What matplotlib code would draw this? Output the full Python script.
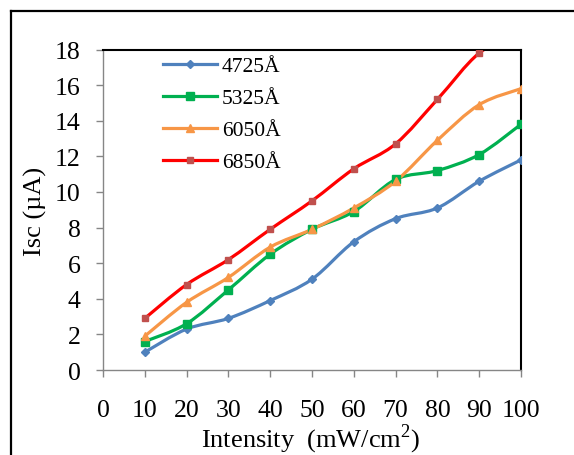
import matplotlib
matplotlib.use("Agg")
import matplotlib.pyplot as plt
import numpy as np
from matplotlib.path import Path
from matplotlib.patches import PathPatch
from matplotlib.lines import Line2D

plt.rcParams['font.family'] = ['Liberation Serif', 'DejaVu Serif']
plt.rcParams['mathtext.fontset'] = 'custom'
plt.rcParams['mathtext.rm'] = 'Liberation Serif'

intensity = [10, 20, 30, 40, 50, 60, 70, 80, 90, 100]
isc_4725 = [1.0, 2.3, 2.9, 3.9, 5.1, 7.2, 8.5, 9.1, 10.6, 11.8]
isc_5325 = [1.6, 2.6, 4.5, 6.5, 7.9, 8.9, 10.7, 11.2, 12.1, 13.8]
isc_6050 = [1.9, 3.8, 5.2, 6.9, 7.9, 9.1, 10.6, 12.9, 14.9, 15.8]
isc_6850 = [2.9, 4.8, 6.2, 7.9, 9.5, 11.3, 12.7, 15.2, 17.8, 19.0]
labels = ['4725Å', '5325Å', '6050Å', '6850Å']
x_ticks = [0, 10, 20, 30, 40, 50, 60, 70, 80, 90, 100]
y_ticks = [0, 2, 4, 6, 8, 10, 12, 14, 16, 18]

series = [isc_4725, isc_5325, isc_6050, isc_6850]
line_colors = ['#4F81BD', '#00B050', '#F79646', '#FF0000']
marker_colors = ['#4F81BD', '#00B050', '#F79646', '#C0504D']
markers = ['D', 's', '^', 's']
msizes = [4.5, 5.5, 5.5, 5.0]

W, H = 574, 456
fig = plt.figure(figsize=(W / 100, H / 100), dpi=100)
ax = fig.add_axes([103 / W, 1 - 371 / H, (521 - 103) / W, (371 - 50.5) / H])


def smooth_path(xs, ys):
    pts = np.column_stack([xs, ys]).astype(float)
    n = len(pts)
    verts = [pts[0]]
    codes = [Path.MOVETO]
    for i in range(n - 1):
        p0 = pts[i - 1] if i > 0 else pts[i]
        p1 = pts[i]
        p2 = pts[i + 1]
        p3 = pts[i + 2] if i + 2 < n else pts[i + 1]
        c1 = p1 + (p2 - p0) / 6.0
        c2 = p2 - (p3 - p1) / 6.0
        verts += [c1, c2, p2]
        codes += [Path.CURVE4] * 3
    return Path(verts, codes)


handles = []
for ys, lc, mc, mk, ms, lab in zip(series, line_colors, marker_colors, markers, msizes, labels):
    patch = PathPatch(smooth_path(intensity, ys), fill=False, edgecolor=lc,
                      lw=2.3, transform=ax.transData, zorder=2)
    ax.add_patch(patch)
    ax.plot(intensity, ys, linestyle='none', marker=mk, markersize=ms,
            color=mc, zorder=3)
    handles.append(Line2D([], [], color=lc, lw=2.3, marker=mk, markersize=ms,
                          markerfacecolor=mc, markeredgecolor=mc))

ax.set_xlim(0, 100)
ax.set_ylim(0, 18)
ax.set_xticks(x_ticks)
ax.set_yticks(y_ticks)
ax.tick_params(axis='both', direction='out', length=5, width=1, color='#868686',
               labelsize=18.5)
ax.tick_params(axis='x', pad=16)
ax.tick_params(axis='y', pad=11)
for s in ['left', 'bottom']:
    ax.spines[s].set_color('#868686')
    ax.spines[s].set_linewidth(1)
for s in ['top', 'right']:
    ax.spines[s].set_color('black')
    ax.spines[s].set_linewidth(1.5)

fig.text(35 / W, 1 - 211 / H, 'Isc (µA)', rotation=90, ha='center', va='center',
         fontsize=19)
fig.text(311 / W, 1 - 439 / H, r'Intensity  (mW/cm$^{\mathrm{2}}$)', ha='center',
         va='center', fontsize=19)

leg = fig.legend(handles=handles, labels=labels, loc='upper left',
                 bbox_to_anchor=(163 / W, 1 - 57 / H), frameon=False,
                 fontsize=15.5, handlelength=2.5, handletextpad=0.23,
                 labelspacing=0.56, borderpad=0, borderaxespad=0)

# outer chart frame (top and left edges visible)
fig.add_artist(Line2D([11 / W, 1.0], [1 - 12 / H, 1 - 12 / H], color='black',
                      lw=1.6, transform=fig.transFigure))
fig.add_artist(Line2D([11 / W, 11 / W], [0.0, 1 - 12 / H], color='black',
                      lw=1.6, transform=fig.transFigure))

fig.savefig('out.png', dpi=100)
